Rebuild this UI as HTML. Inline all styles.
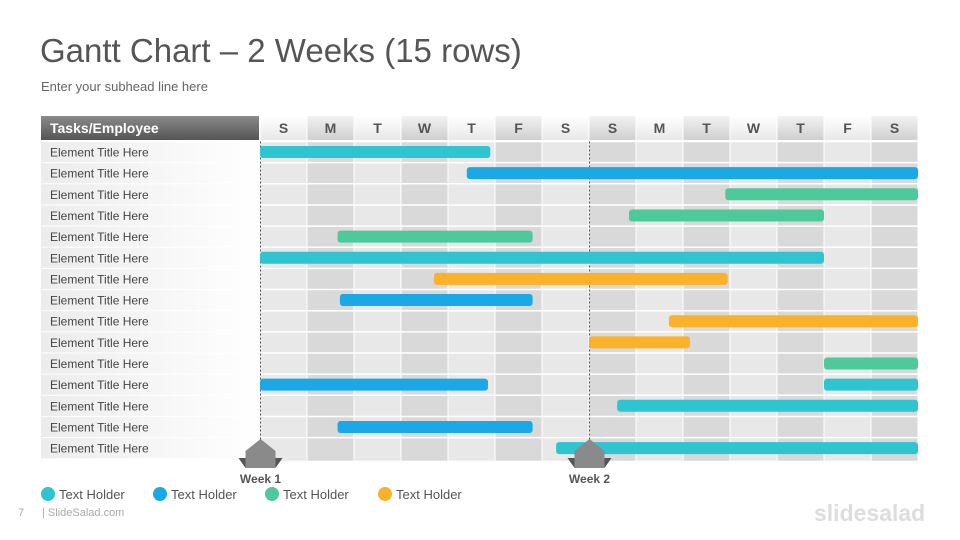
<!DOCTYPE html>
<html><head><meta charset="utf-8"><style>
body{margin:0;background:#fff;font-family:"Liberation Sans",sans-serif}
#wrap{position:relative;width:960px;height:540px;overflow:hidden}
.t{position:absolute;white-space:nowrap}
</style></head><body>
<div id="wrap">
<div class="t" style="left:40px;top:32px;font-size:33px;color:#555">Gantt Chart – 2 Weeks (15 rows)</div>
<div class="t" style="left:41px;top:79px;font-size:13px;color:#666">Enter your subhead line here</div>
<svg id="g" width="960" height="540" style="position:absolute;left:0;top:0"></svg>
<div class="t" style="left:18px;top:507px;font-size:11px;color:#aaa">7</div>
<div class="t" style="left:42px;top:507px;font-size:11px;color:#aaa">| SlideSalad.com</div>
<div class="t" style="left:814px;top:500px;font-size:23px;color:#ddd;font-weight:bold">slidesalad</div>
</div>
<script>
const days=["S","M","T","W","T","F","S","S","M","T","W","T","F","S"];
const taskLabels=Array(15).fill("Element Title Here");
const barRows=[0,1,2,3,4,5,6,7,8,9,10,11,11,12,13,14];
const barStarts=[0,4.4,9.9,7.85,1.65,0,3.7,1.7,8.7,7,12,0,12,7.6,1.65,6.3];
const barEnds=[4.9,14,14,12,5.8,12,9.95,5.8,14,9.15,14,4.85,14,14,5.8,14];
const barSeries=[0,1,2,2,2,0,3,1,3,3,2,1,0,0,1,0];
const seriesNames=["Text Holder","Text Holder","Text Holder","Text Holder"];
const colors=["#2ec4d0","#1aa9e6","#4dc99b","#fbb12a"];
const weeks=[{label:"Week 1",day:0},{label:"Week 2",day:7}];
const NS="http://www.w3.org/2000/svg",svg=document.getElementById("g");
const X0=260,CW=47,Y0=141.5,RH=21.15,HY=116;
const x=d=>X0+d*CW, y=r=>Y0+r*RH;
function mk(t,a,p){const e=document.createElementNS(NS,t);for(const k in a)e.setAttribute(k,a[k]);(p||svg).appendChild(e);return e;}
const defs=mk("defs",{});
defs.innerHTML='<linearGradient id="hd" x1="0" y1="0" x2="0" y2="1"><stop offset="0" stop-color="#8a8a8a"/><stop offset="1" stop-color="#555"/></linearGradient><linearGradient id="lg" x1="0" y1="0" x2="0" y2="1"><stop offset="0" stop-color="#fff"/><stop offset="1" stop-color="#e8e8e8"/></linearGradient><linearGradient id="dg" x1="0" y1="0" x2="0" y2="1"><stop offset="0" stop-color="#f2f2f2"/><stop offset="1" stop-color="#cfcfcf"/></linearGradient><linearGradient id="rl" x1="0" y1="0" x2="1" y2="0"><stop offset="0" stop-color="#ececec"/><stop offset="1" stop-color="#fff"/></linearGradient>';
let h=mk("rect",{x:41,y:HY,width:218,height:24,fill:"url(#hd)"});

let ht=mk("text",{x:50,y:133,"font-size":14,"font-weight":"bold",fill:"#fff"});ht.textContent="Tasks/Employee";
days.forEach((d,i)=>{
 const c=mk("rect",{x:x(i)+0.5,y:HY,width:CW-1,height:24,fill:i%2?"url(#dg)":"url(#lg)"});
 
 const t=mk("text",{x:x(i)+CW/2,y:133,"text-anchor":"middle","font-size":14,"font-weight":"bold",fill:"#555"});t.textContent=d;
 const col=mk("rect",{x:x(i)+0.5,y:Y0,width:CW-1,height:RH*15+2,fill:i%2?"#d9d9d9":"#e8e8e8"});
 
});
taskLabels.forEach((l,r)=>{
 const b=mk("rect",{x:41,y:y(r)+0.5,width:218,height:RH-1,fill:"url(#rl)"});
 
 mk("line",{x1:X0,x2:918,y1:y(r),y2:y(r),stroke:"#fff","stroke-width":1.5});
 const t=mk("text",{x:50,y:y(r)+15,"font-size":12,fill:"#444"});t.textContent=l;
});
weeks.forEach(w=>mk("line",{x1:x(w.day)+0.5,x2:x(w.day)+0.5,y1:Y0,y2:445,stroke:"#555","stroke-dasharray":"2,2"}));
barRows.forEach((r,i)=>{
 const b=mk("rect",{x:x(barStarts[i]),y:y(r)+4.5,width:x(barEnds[i])-x(barStarts[i]),height:12,rx:3,fill:colors[barSeries[i]]});
 
});
weeks.forEach(w=>{
 const cx=x(w.day)+0.5;
 mk("polygon",{points:`${cx-22},458 ${cx+22},458 ${cx+15},468 ${cx-15},468`,fill:"#555"});
 const m=mk("polygon",{points:`${cx},439 ${cx+15},451 ${cx+15},468 ${cx-15},468 ${cx-15},451`,fill:"#8a8a8a"});
 
 const t=mk("text",{x:cx,y:483,"text-anchor":"middle","font-size":12,"font-weight":"bold",fill:"#555"});t.textContent=w.label;
});
const lx=[48,160,272,385];
seriesNames.forEach((n,i)=>{
 const c=mk("circle",{cx:lx[i],cy:494,r:7,fill:colors[i]});
 
 const t=mk("text",{x:lx[i]+11,y:499,"font-size":13,fill:"#555"});t.textContent=n;
});
</script>
</body></html>
